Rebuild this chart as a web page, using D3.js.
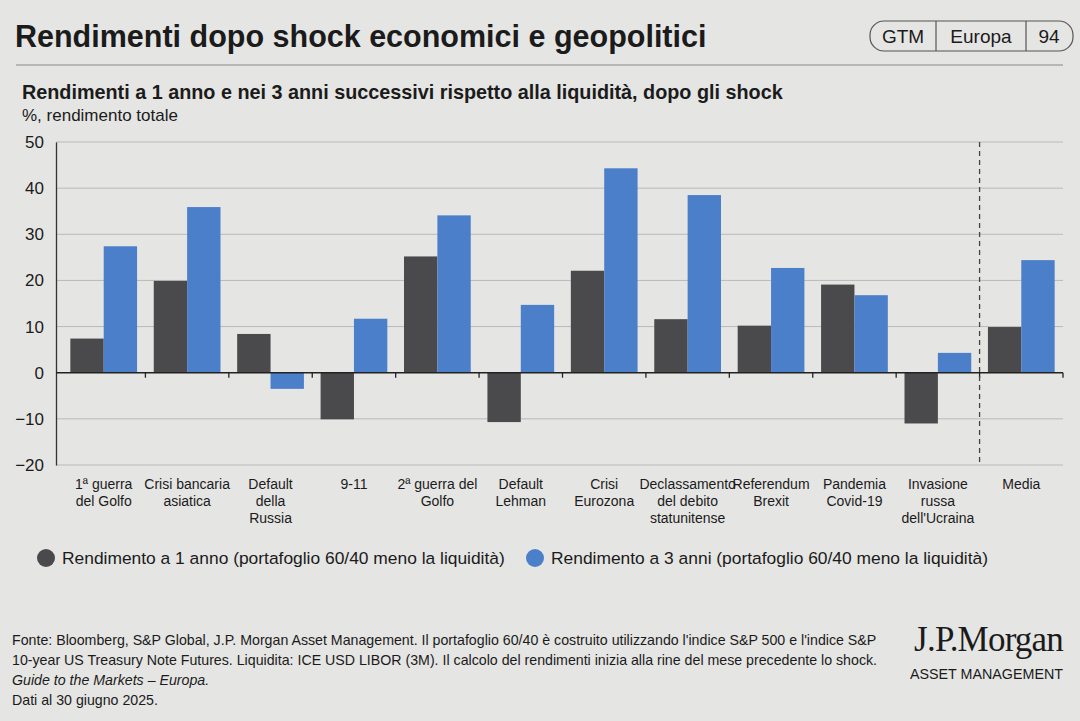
<!DOCTYPE html>
<html>
<head>
<meta charset="utf-8">
<script src="https://cdn.jsdelivr.net/npm/d3@7"></script>
<style>
  body { margin:0; background:#e5e5e3; }
  svg { display:block; font-family:"Liberation Sans", Arial, sans-serif; }
</style>
</head>
<body>
<div id="divChart"></div>
<script>
// categorie (righe delle etichette) e valori
var categories = [
  ["1ª guerra", "del Golfo"],
  ["Crisi bancaria", "asiatica"],
  ["Default", "della", "Russia"],
  ["9-11"],
  ["2ª guerra del", "Golfo"],
  ["Default", "Lehman"],
  ["Crisi", "Eurozona"],
  ["Declassamento", "del debito", "statunitense"],
  ["Referendum", "Brexit"],
  ["Pandemia", "Covid-19"],
  ["Invasione", "russa", "dell'Ucraina"],
  ["Media"]
];
var ret1y = [7.4, 19.9, 8.4, -10.1, 25.2, -10.7, 22.1, 11.6, 10.2, 19.1, -11.0, 9.9];
var ret3y = [27.4, 35.9, -3.5, 11.7, 34.1, 14.7, 44.3, 38.5, 22.7, 16.8, 4.3, 24.4];
var yTicks = [50, 40, 30, 20, 10, 0, -10, -20];
var seriesNames = [
  "Rendimento a 1 anno (portafoglio 60/40 meno la liquidità)",
  "Rendimento a 3 anni (portafoglio 60/40 meno la liquidità)"
];
var seriesColors = ["#4a4a4d", "#4c7fca"];

var W = 1080, H = 721;
var ink = "#1b1b1b";

var svg = d3.select("#divChart").append("svg")
  .attr("width", W).attr("height", H);

svg.append("rect").attr("width", W).attr("height", H).attr("fill", "#e5e5e3");

// titolo
svg.append("text").attr("x", 15).attr("y", 47)
  .attr("font-size", 30.5).attr("font-weight", "bold").attr("fill", ink)
  .text("Rendimenti dopo shock economici e geopolitici");

svg.append("line").attr("x1", 16).attr("x2", 1063).attr("y1", 65).attr("y2", 65)
  .attr("stroke", "#8a8a8a").attr("stroke-width", 1.2);

// box GTM
var box = svg.append("g");
box.append("rect").attr("x", 870).attr("y", 21).attr("width", 203).attr("height", 30)
  .attr("rx", 14).attr("fill", "none").attr("stroke", "#555").attr("stroke-width", 1.2);
[936, 1026].forEach(function(x){
  box.append("line").attr("x1", x).attr("x2", x).attr("y1", 21).attr("y2", 51)
    .attr("stroke", "#555").attr("stroke-width", 1.2);
});
[["GTM", 903], ["Europa", 981], ["94", 1049]].forEach(function(d){
  box.append("text").attr("x", d[1]).attr("y", 43).attr("text-anchor", "middle")
    .attr("font-size", 19).attr("fill", ink).text(d[0]);
});

svg.append("text").attr("x", 22).attr("y", 99)
  .attr("font-size", 19.8).attr("font-weight", "bold").attr("fill", ink)
  .text("Rendimenti a 1 anno e nei 3 anni successivi rispetto alla liquidità, dopo gli shock");
svg.append("text").attr("x", 22).attr("y", 121)
  .attr("font-size", 17).attr("fill", ink).text("%, rendimento totale");

// grafico
var margin = {left: 56, right: 1063, top: 142, bottom: 465};
var idx = d3.range(categories.length);

var x0 = d3.scaleBand().domain(idx).range([margin.left + 6, margin.right])
  .paddingInner(0.2).paddingOuter(0.1);
var x1 = d3.scaleBand().domain([0, 1]).range([0, x0.bandwidth()]);
var y = d3.scaleLinear().domain([-20, 50]).range([margin.bottom, margin.top]);

var g = svg.append("g");

// griglia
g.selectAll("line.grid").data(yTicks.filter(function(t){ return t !== 0; }))
  .enter().append("line").attr("class", "grid")
  .attr("x1", margin.left).attr("x2", margin.right)
  .attr("y1", function(d){ return y(d); }).attr("y2", function(d){ return y(d); })
  .attr("stroke", "#b9b9b9").attr("stroke-width", 1);

// asse y
var yAxis = g.append("g").attr("transform", "translate(" + margin.left + ",0)")
  .call(d3.axisLeft(y).tickValues(yTicks).tickSize(0).tickPadding(12));
yAxis.select(".domain").attr("stroke", "#333").attr("stroke-width", 1.3);
yAxis.selectAll("text").attr("font-size", 17).attr("fill", ink)
  .attr("font-family", "Liberation Sans, Arial, sans-serif");

// barre
var series = [ret1y, ret3y];
series.forEach(function(vals, s){
  g.selectAll("rect.s" + s).data(vals).enter().append("rect")
    .attr("class", "s" + s)
    .attr("x", function(d, i){ return x0(i) + x1(s); })
    .attr("width", x1.bandwidth())
    .attr("y", function(d){ return y(Math.max(0, d)); })
    .attr("height", function(d){ return Math.abs(y(d) - y(0)); })
    .attr("fill", seriesColors[s]);
});

// asse x (linea dello zero con tacche)
var step = x0.step();
var boundaries = idx.map(function(i){ return x0(i) - step * x0.paddingInner() / 2; })
  .concat([margin.right]).slice(1);
g.append("line").attr("x1", margin.left).attr("x2", margin.right)
  .attr("y1", y(0)).attr("y2", y(0)).attr("stroke", "#222").attr("stroke-width", 1.4);
g.selectAll("line.tick").data(boundaries).enter().append("line").attr("class", "tick")
  .attr("x1", function(d){ return d; }).attr("x2", function(d){ return d; })
  .attr("y1", y(0)).attr("y2", y(0) + 5).attr("stroke", "#222").attr("stroke-width", 1.3);

// separatore della media
var sepX = x0(categories.length - 1) - step * x0.paddingInner() / 2;
g.append("line").attr("x1", sepX).attr("x2", sepX)
  .attr("y1", margin.top).attr("y2", margin.bottom)
  .attr("stroke", "#444").attr("stroke-width", 1.3).attr("stroke-dasharray", "5,4");

// etichette delle categorie
categories.forEach(function(lines, i){
  var t = g.append("text").attr("text-anchor", "middle").attr("font-size", 14).attr("fill", ink);
  lines.forEach(function(l, k){
    t.append("tspan").attr("x", x0(i) + x0.bandwidth() / 2).attr("y", 489 + k * 17).text(l);
  });
});

// legenda
var legX = [46, 535];
seriesNames.forEach(function(n, s){
  svg.append("circle").attr("cx", legX[s]).attr("cy", 558).attr("r", 9).attr("fill", seriesColors[s]);
  svg.append("text").attr("x", legX[s] + 16).attr("y", 564).attr("font-size", 17.4)
    .attr("fill", ink).text(n);
});

// note
var notes = [
  "Fonte: Bloomberg, S&P Global, J.P. Morgan Asset Management. Il portafoglio 60/40 è costruito utilizzando l'indice S&P 500 e l'indice S&P",
  "10-year US Treasury Note Futures. Liquidita: ICE USD LIBOR (3M). Il calcolo del rendimenti inizia alla rine del mese precedente lo shock.",
  "Guide to the Markets – Europa.",
  "Dati al 30 giugno 2025."
];
notes.forEach(function(n, k){
  svg.append("text").attr("x", 12).attr("y", 645 + k * 20).attr("font-size", 14.2)
    .attr("fill", ink).attr("font-style", k === 2 ? "italic" : "normal").text(n);
});

// logo
svg.append("text").attr("x", 1063).attr("y", 651).attr("text-anchor", "end")
  .attr("font-family", "Liberation Serif, serif").attr("font-size", 35).attr("fill", ink)
  .attr("letter-spacing", -0.8).text("J.P.Morgan");
svg.append("text").attr("x", 1063).attr("y", 679).attr("text-anchor", "end")
  .attr("font-size", 14.3).attr("fill", ink).text("ASSET MANAGEMENT");
</script>
</body>
</html>
